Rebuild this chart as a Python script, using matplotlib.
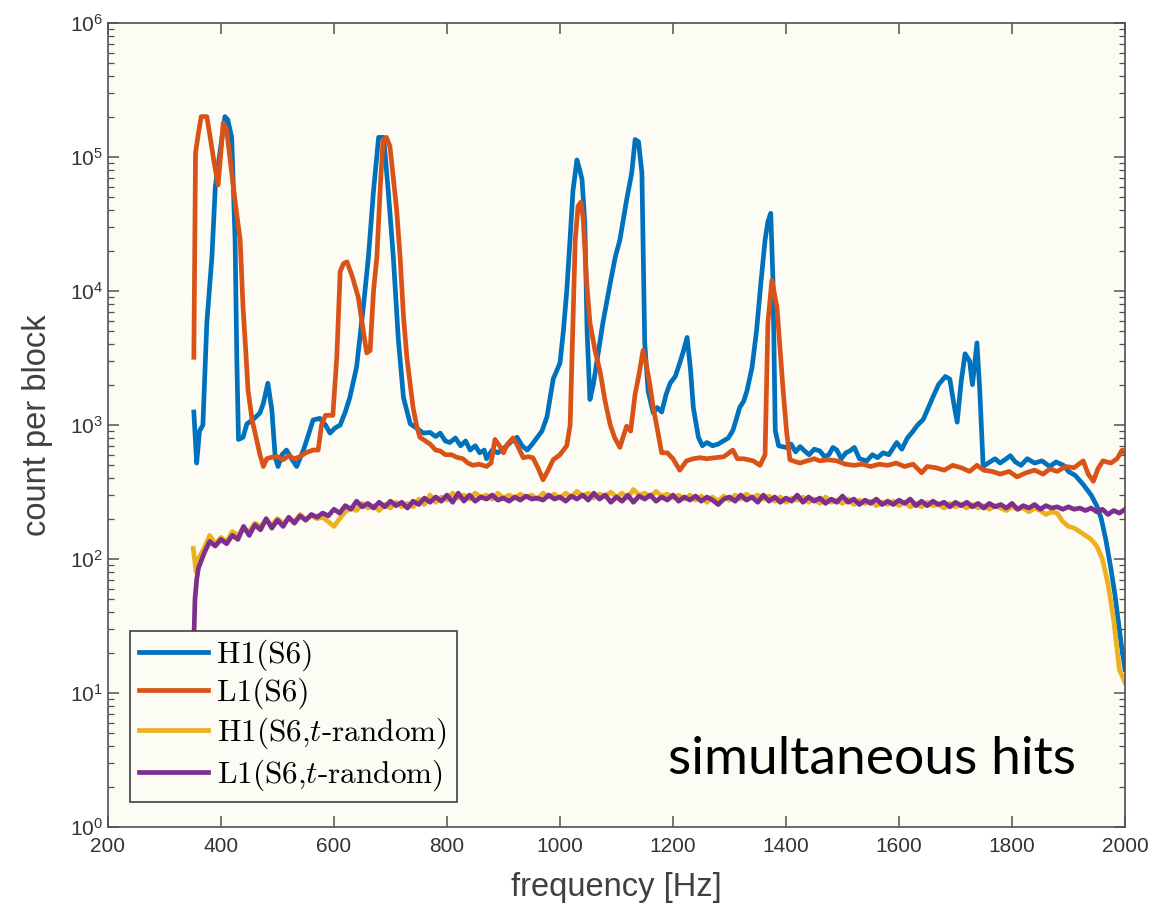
import numpy as np
import matplotlib
matplotlib.use("Agg")
import matplotlib.pyplot as plt
from matplotlib.ticker import FixedLocator, NullFormatter

plt.rcParams['font.family'] = ['Liberation Sans', 'DejaVu Sans']
plt.rcParams['mathtext.fontset'] = 'cm'

# H1(S6)
h1_f = [352, 357, 362, 368, 375, 384, 390, 398, 407, 412, 419, 425, 428, 431, 439,
        446, 457, 469, 475, 483, 490, 496, 501, 508, 516, 525, 534, 546, 555, 563,
        575, 585, 593, 602, 611, 620, 628, 640, 652, 661, 670, 679, 688, 696, 705,
        714, 723, 735, 746, 758, 770, 780, 788, 797, 805, 815, 824, 833, 841, 850,
        858, 866, 870, 880, 890, 906, 915, 924, 933, 942, 951, 960, 968, 977, 988,
        1000, 1006, 1012, 1018, 1023, 1030, 1035, 1039, 1044, 1048, 1053, 1059, 1065,
        1076, 1089, 1098, 1106, 1118, 1127, 1133, 1139, 1145, 1150, 1156, 1165, 1172,
        1180, 1188, 1195, 1204, 1212, 1218, 1225, 1231, 1236, 1245, 1252, 1260, 1270,
        1280, 1289, 1298, 1306, 1312, 1318, 1325, 1331, 1340, 1348, 1356, 1363, 1368,
        1373, 1377, 1381, 1387, 1393, 1400, 1409, 1417, 1425, 1433, 1441, 1450, 1460,
        1468, 1476, 1483, 1490, 1498, 1506, 1513, 1521, 1530, 1543, 1553, 1562, 1572,
        1582, 1596, 1605, 1615, 1625, 1633, 1643, 1652, 1661, 1670, 1682, 1690, 1697,
        1703, 1710, 1717, 1725, 1730, 1738, 1743, 1749, 1758, 1770, 1779, 1790, 1797,
        1806, 1816, 1827, 1840, 1853, 1867, 1878, 1891, 1900, 1912, 1926, 1940, 1950,
        1958, 1966, 1974, 1982, 1988, 1994, 2000]
h1_v = [1250, 520, 900, 1000, 5800, 1.8e4, 6e4, 1.07e5, 2.0e5, 1.9e5, 1.4e5, 2.4e4, 3200, 780, 810,
        1020, 1100, 1230, 1450, 2050, 1300, 575, 490, 600, 650, 560, 490, 650, 850, 1090,
        1120, 1000, 870, 950, 1000, 1250, 1600, 2700, 7600, 1.8e4, 5.6e4, 1.4e5, 1.4e5, 5.6e4, 1.8e4,
        4300, 1600, 1020, 950, 870, 880, 820, 870, 760, 740, 800, 700, 760, 650, 700,
        620, 650, 560, 650, 620, 700, 760, 810, 700, 650, 720, 810, 900, 1150, 2200,
        2900, 5000, 1.0e4, 2.5e4, 5.6e4, 9.5e4, 8e4, 6.8e4, 3.2e4, 5000, 1550, 2000, 2900,
        5800, 1.15e4, 1.8e4, 2.4e4, 4.8e4, 7.6e4, 1.35e5, 1.3e5, 7.6e4, 4100, 1800, 1230, 1350,
        1250, 1700, 2050, 2300, 2900, 3500, 4500, 2600, 1350, 810, 700, 740, 700,
        720, 760, 800, 910, 1100, 1350, 1500, 1800, 2700, 5100, 1.2e4, 2.4e4, 3.3e4,
        3.8e4, 1.2e4, 910, 700, 690, 680, 720, 630, 690, 640, 600, 660, 640,
        580, 600, 680, 650, 560, 620, 640, 680, 560, 540, 600, 570, 620,
        600, 740, 660, 800, 900, 1000, 1100, 1350, 1650, 2000, 2300, 2200, 1450,
        1050, 2100, 3400, 3000, 2000, 4100, 1800, 490, 520, 560, 520, 560, 590,
        530, 500, 560, 520, 540, 490, 530, 500, 450, 420, 360, 300, 250,
        200, 140, 90, 55, 35, 22, 15]

# L1(S6)
l1_f = [352, 355, 360, 365, 375, 381, 388, 395, 400, 404, 410, 419, 427, 434, 439,
        444, 448, 455, 463, 469, 475, 481, 490, 500, 510, 520, 530, 540, 550, 563,
        572, 578, 585, 598, 605, 611, 617, 623, 632, 643, 652, 658, 664, 670, 676,
        682, 687, 693, 699, 705, 711, 717, 723, 729, 735, 740, 746, 752, 762, 770,
        780, 788, 797, 808, 817, 828, 837, 846, 857, 870, 878, 885, 893, 900, 907,
        917, 925, 935, 944, 952, 961, 970, 978, 988, 1000, 1012, 1018, 1023, 1027,
        1032, 1037, 1041, 1047, 1053, 1062, 1071, 1080, 1089, 1097, 1106, 1112, 1118,
        1125, 1133, 1140, 1147, 1153, 1159, 1165, 1171, 1180, 1190, 1200, 1212, 1224,
        1236, 1248, 1260, 1275, 1290, 1306, 1314, 1325, 1342, 1354, 1363, 1368, 1375,
        1384, 1390, 1395, 1401, 1407, 1418, 1425, 1437, 1450, 1460, 1475, 1490, 1505,
        1520, 1535, 1550, 1565, 1580, 1595, 1610, 1625, 1640, 1650, 1665, 1680, 1695,
        1710, 1725, 1738, 1750, 1765, 1779, 1795, 1809, 1825, 1840, 1855, 1867, 1880,
        1895, 1910, 1926, 1935, 1944, 1952, 1961, 1975, 1986, 1995, 2000]
l1_v = [3200, 1.07e5, 1.5e5, 2.0e5, 2.0e5, 1.4e5, 9e4, 6.2e4, 1.1e5, 1.8e5, 1.6e5, 7.6e4, 4e4, 2.4e4, 7600,
        3500, 1800, 1100, 780, 600, 490, 560, 575, 580, 550, 590, 560, 580, 620, 650,
        650, 1000, 1180, 1180, 3200, 1.4e4, 1.6e4, 1.65e4, 1.3e4, 9000, 5000, 3450, 3600, 1.0e4, 1.8e4,
        6e4, 1.35e5, 1.4e5, 1.2e5, 7e4, 4e4, 1.8e4, 6500, 3200, 2000, 1350, 1000, 810, 760, 720,
        650, 640, 600, 600, 575, 560, 520, 500, 510, 490, 520, 780, 700, 620, 720,
        800, 700, 570, 580, 570, 480, 390, 450, 550, 600, 700, 1000, 5800, 2.4e4,
        4.3e4, 4.6e4, 3.5e4, 1.2e4, 5800, 3600, 2500, 1500, 1000, 800, 680, 820, 980,
        900, 1700, 2400, 3600, 2800, 2000, 1350, 1000, 620, 620, 560, 460, 540,
        560, 570, 560, 570, 580, 650, 560, 560, 540, 500, 600, 5800, 1.2e4,
        7600, 3500, 1800, 900, 550, 530, 520, 540, 560, 540, 550, 540, 510,
        500, 510, 490, 510, 500, 520, 490, 510, 440, 490, 480, 460, 500,
        480, 450, 500, 460, 450, 430, 450, 410, 440, 460, 430, 470, 450,
        490, 480, 540, 430, 380, 470, 540, 520, 560, 650, 620]

# t-random series: sampled every 10 Hz from 360 Hz, plus a few leading points
rand_f = np.arange(360, 2001, 10)
h1r_head_f = [351, 356]
h1r_head_v = [120, 80]
h1r_v = [100, 120, 150, 130, 145, 135, 160, 150, 170,
         160, 185, 175, 195, 180, 200, 185, 200, 190, 215,
         195, 210, 200, 205, 190, 175, 200, 225, 240, 230,
         260, 240, 250, 230, 255, 240, 265, 245, 260, 245,
         280, 255, 300, 265, 290, 275, 310, 285, 300, 280,
         310, 290, 300, 280, 310, 285, 300, 285, 305, 290,
         300, 280, 310, 290, 305, 285, 310, 290, 320, 295,
         310, 285, 305, 295, 315, 290, 310, 285, 330, 300,
         310, 290, 320, 295, 305, 285, 300, 280, 300, 275,
         295, 265, 290, 270, 295, 275, 300, 280, 305, 285,
         300, 280, 295, 270, 290, 265, 285, 275, 290, 265,
         280, 260, 290, 265, 275, 260, 280, 255, 275, 260,
         270, 250, 265, 255, 270, 250, 265, 245, 260, 245,
         265, 250, 255, 240, 260, 245, 255, 240, 255, 240,
         250, 235, 250, 240, 230, 245, 235, 240, 225, 240,
         230, 215, 225, 220, 190, 175, 170, 160, 150, 140,
         125, 100, 65, 35, 15, 12]

l1r_head_f = [351, 352, 354, 357]
l1r_head_v = [5, 25, 50, 70]
l1r_v = [85, 110, 135, 125, 140, 130, 150, 140, 175,
         150, 180, 165, 200, 170, 195, 175, 205, 185, 210,
         195, 215, 205, 220, 210, 235, 220, 250, 235, 270,
         245, 260, 240, 265, 245, 270, 250, 265, 240, 270,
         255, 285, 265, 290, 270, 300, 265, 310, 270, 300,
         270, 290, 280, 300, 275, 285, 270, 290, 275, 295,
         280, 285, 275, 300, 280, 290, 270, 295, 280, 300,
         275, 310, 280, 300, 265, 290, 270, 300, 265, 295,
         280, 300, 270, 290, 275, 300, 270, 290, 275, 295,
         270, 290, 275, 255, 280, 290, 270, 300, 275, 290,
         265, 300, 270, 290, 265, 285, 270, 300, 265, 290,
         270, 285, 260, 280, 265, 295, 265, 280, 255, 275,
         260, 280, 255, 270, 255, 275, 260, 280, 250, 270,
         250, 270, 255, 265, 245, 265, 250, 265, 245, 260,
         240, 260, 245, 255, 240, 260, 235, 250, 240, 255,
         235, 250, 240, 245, 235, 245, 235, 240, 230, 240,
         225, 235, 215, 230, 220, 235]

labels = ['H1(S6)', 'L1(S6)', 'H1(S6,$t$-random)', 'L1(S6,$t$-random)']
colors = ['#0072BD', '#D95319', '#EDB120', '#7E2F8E']
x_ticks = [200, 400, 600, 800, 1000, 1200, 1400, 1600, 1800, 2000]
y_ticks = [1, 10, 100, 1e3, 1e4, 1e5, 1e6]

fig = plt.figure(figsize=(11.51, 9.08), dpi=100)
ax = fig.add_axes([0.0938, 0.0892, 0.8836, 0.8855])
ax.set_facecolor('#FCFCF4')

lw = 3.4
ax.plot(h1_f, h1_v, color=colors[0], lw=lw, label=labels[0])
ax.plot(l1_f, l1_v, color=colors[1], lw=lw, label=labels[1])
ax.plot(np.concatenate([h1r_head_f, rand_f]), np.concatenate([h1r_head_v, h1r_v]),
        color=colors[2], lw=lw, label=labels[2])
ax.plot(np.concatenate([l1r_head_f, rand_f]), np.concatenate([l1r_head_v, l1r_v]),
        color=colors[3], lw=lw, label=labels[3])

ax.set_yscale('log')
ax.set_xlim(200, 2000)
ax.set_ylim(1, 1e6)
ax.xaxis.set_major_locator(FixedLocator(x_ticks))
ax.yaxis.set_major_locator(FixedLocator(y_ticks))
ax.yaxis.set_minor_locator(FixedLocator([m * 10.0 ** e for e in range(0, 6) for m in range(2, 10)]))
ax.yaxis.set_minor_formatter(NullFormatter())

for s in ax.spines.values():
    s.set_color('#505050')
    s.set_linewidth(1.2)
ax.tick_params(which='both', direction='in', top=True, right=True, color='#505050',
               labelcolor='#333333', labelsize=15)
ax.tick_params(which='major', length=8, width=1.1)
ax.tick_params(which='minor', length=4, width=0.9)
ax.tick_params(axis='x', pad=7)

ax.set_xlabel('frequency [Hz]', fontsize=23.5, color='#404040', labelpad=12)
ax.set_ylabel('count per block', fontsize=23.5, color='#404040', labelpad=12)

leg = ax.legend(loc='lower left', bbox_to_anchor=(0.0216, 0.031),
                prop={'family': 'cmr10', 'size': 22.5}, frameon=True, fancybox=False,
                handlelength=2.2, handletextpad=0.3, labelspacing=0.2,
                borderpad=0.3, borderaxespad=0.0)
leg.get_frame().set_edgecolor('#404040')
leg.get_frame().set_linewidth(1.2)
leg.get_frame().set_facecolor('#FCFCF4')
leg.get_frame().set_alpha(1.0)

ax.text(0.551, 0.066, 'simultaneous hits', transform=ax.transAxes, fontsize=38.5,
        family=['Lato', 'DejaVu Sans'], color='black', va='baseline', ha='left')

fig.savefig('out.png', dpi=100, facecolor='white')
